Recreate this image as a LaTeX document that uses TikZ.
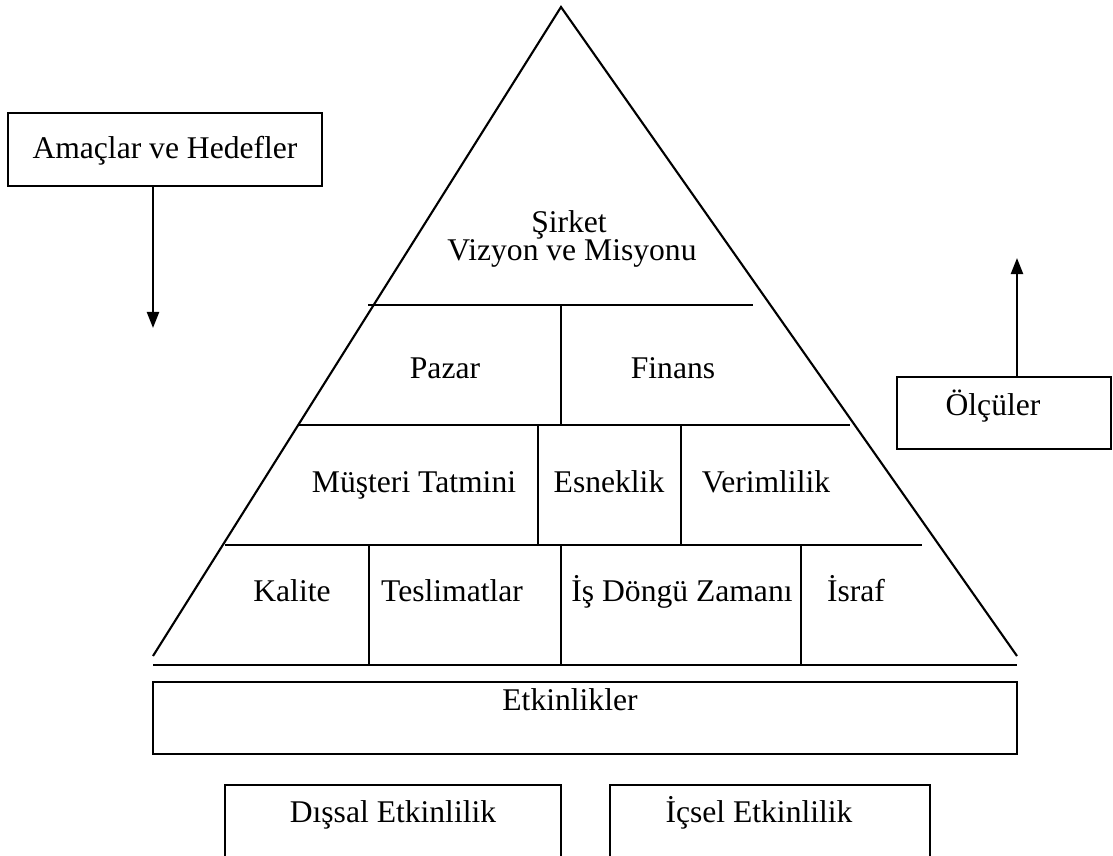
\documentclass[tikz,border=0pt]{standalone}
\usepackage{fontspec}
\setmainfont{Liberation Serif}
\usepackage{tikz}
\usetikzlibrary{arrows.meta, positioning, calc}
\newlength{\px}
\setlength{\px}{0.3797pt}

\begin{document}
\fontsize{12}{14.4}\selectfont
\begin{tikzpicture}[
    x=\px, y=-\px,
    box/.style={rectangle, draw=black, line width=0.8pt, inner ysep=0pt,
      inner xsep=0pt, align=center},
    lbl/.style={anchor=base, inner sep=0pt},
    line/.style={-, line width=0.8pt, color=black},
    arr/.style={-{Triangle[length=6.1pt, width=4.6pt]}, line width=0.8pt}
  ]
    \useasboundingbox (0,0) rectangle (1113,856);

    % pyramid
    \draw[line] (153,656) -- (561,7) -- (1017,656);
    \draw[line] (368,305) -- (753,305);
    \draw[line] (298,425) -- (850,425);
    \draw[line] (225,545) -- (922,545);
    \draw[line, line width=1.1pt] (153,665) -- (1017,665);
    \draw[line] (561,305) -- (561,425);
    \draw[line] (538,425) -- (538,545);
    \draw[line] (681,425) -- (681,545);
    \draw[line] (369,545) -- (369,665);
    \draw[line] (561,545) -- (561,665);
    \draw[line] (801,545) -- (801,665);

    \node[lbl] (sir) at (569,232) {Şirket};
    \node[lbl] (viz) at (572,260) {Vizyon ve Misyonu};
    \node[lbl] (paz) at (445,378) {Pazar};
    \node[lbl] (fin) at (673,378) {Finans};
    \node[lbl] (mus) at (414,492) {Müşteri Tatmini};
    \node[lbl] (esn) at (609,492) {Esneklik};
    \node[lbl] (ver) at (766,492) {Verimlilik};
    \node[lbl] (kal) at (292,601) {Kalite};
    \node[lbl] (tes) at (452,601) {Teslimatlar};
    \node[lbl] (isd) at (682,601) {İş Döngü Zamanı};
    \node[lbl] (isr) at (856,601) {İsraf};

    % side boxes
    \node[box, minimum width=314\px, text height=45\px, text depth=28\px]
      (amac) at (165,149.5) {Amaçlar ve Hedefler};
    \node[box, minimum width=214\px, text height=38\px, text depth=34\px]
      (olc) at (1004,413) {Ölçüler\hspace*{22\px}};
    \coordinate (amacend) at (153,328);
    \coordinate (olcend) at (1017,258);
    \draw[arr] (amacend |- amac.south) -- (amacend);
    \draw[arr] (olcend |- olc.north) -- (olcend);

    % bottom boxes
    \node[box, minimum width=864\px, text height=28\px, text depth=44\px]
      (etk) at (585,718) {Etkinlikler\hspace*{30\px}};
    \node[box, minimum width=336\px, text height=37\px, text depth=40\px]
      (dis) at (393,823.5) {Dışsal Etkinlilik};
    \node[box, minimum width=320\px, text height=37\px, text depth=40\px]
      (ics) at (770,823.5) {İçsel Etkinlilik\hspace*{22\px}};
  \end{tikzpicture}
\end{document}
